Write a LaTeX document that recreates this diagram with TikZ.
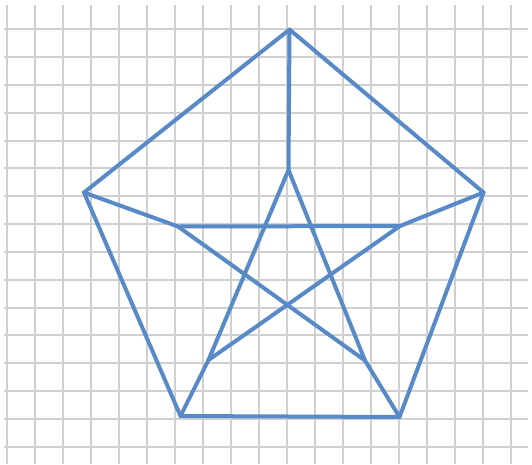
\documentclass[tikz,border=0pt]{standalone}
\begin{document}
\begin{tikzpicture}[x=1pt,y=-1pt,
  gridline/.style={draw={rgb,255:red,208;green,208;blue,208},line width=2pt},
  edge/.style={draw={rgb,255:red,88;green,138;blue,200},line width=4pt,line cap=round,line join=round}]
\useasboundingbox[fill=white] (0,0) rectangle (532,464);
% grid
\foreach \k in {0,...,18}{
  \draw[gridline] ({7+28.02*\k},5) -- ({7+28.02*\k},464);
}
\foreach \k in {0,...,15}{
  \draw[gridline] (4,{29.3+27.83*\k}) -- (528,{29.3+27.83*\k});
}
% vertices
\coordinate (o1) at (289.5,29.5);
\coordinate (o2) at (483.5,192.5);
\coordinate (o3) at (399.5,417);
\coordinate (o4) at (180.5,416);
\coordinate (o5) at (84,192.5);
\coordinate (i1) at (288.5,170);
\coordinate (i2) at (400,226);
\coordinate (i3) at (365,360.5);
\coordinate (i4) at (208.5,360);
\coordinate (i5) at (178,226.5);
% outer pentagon
\draw[edge] (o1) -- (o2) -- (o3) -- (o4) -- (o5) -- cycle;
% spokes
\draw[edge] (o1) -- (i1);
\draw[edge] (o2) -- (i2);
\draw[edge] (o3) -- (i3);
\draw[edge] (o4) -- (i4);
\draw[edge] (o5) -- (i5);
% pentagram
\draw[edge] (i1) -- (i3);
\draw[edge] (i1) -- (i4);
\draw[edge] (i2) -- (i4);
\draw[edge] (i2) -- (i5);
\draw[edge] (i3) -- (i5);
\end{tikzpicture}
\end{document}
